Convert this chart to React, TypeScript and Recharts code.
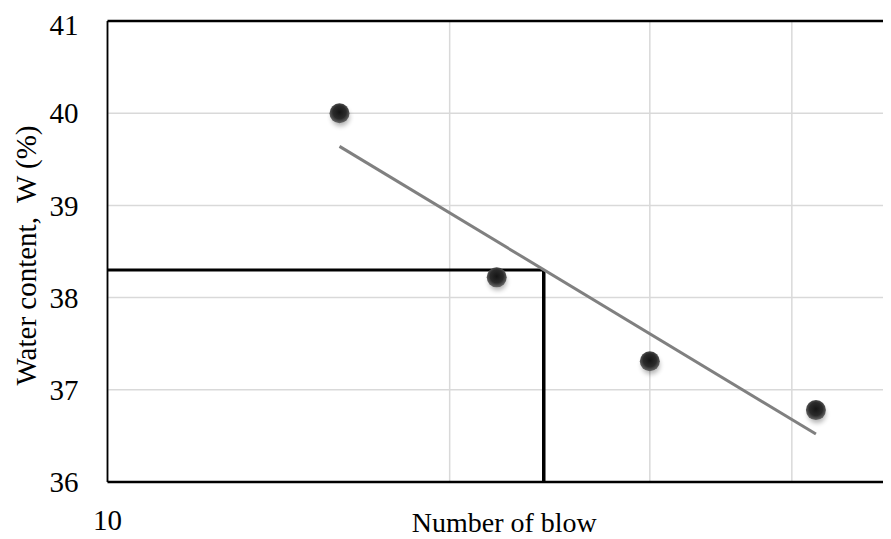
import React from 'react';
import {
  ComposedChart,
  Scatter,
  XAxis,
  YAxis,
  CartesianGrid,
  ReferenceLine,
  Label
} from 'recharts';

// number of blows vs water content (liquid limit test)
const blows = [16, 22, 30, 42];
const waterContent = [40.0, 38.22, 37.31, 36.78];

// trendline end points
const trendBlows = [16, 42];
const trendWater = [39.64, 36.52];

// liquid limit read-off lines
const llBlows = 24.2;
const llWater = 38.3;

const xTicks = [10, 20, 30, 40];
const yTicks = [36, 37, 38, 39, 40, 41];
const xDomain = [10, 48.9];
const yDomain = [36, 41];

const FONT = 'Liberation Serif';

const points = blows.map((b, i) => ({ x: b, y: waterContent[i] }));
const trend = trendBlows.map((b, i) => ({ x: b, y: trendWater[i] }));

const Ball = (props: any) => {
  const { cx, cy } = props;
  if (cx == null || cy == null) return null;
  return (
    <g>
      <circle cx={cx + 1} cy={cy + 4} r={9} fill="#000" opacity={0.3} filter="url(#ballShadow)" />
      <circle cx={cx} cy={cy} r={10} fill="url(#ballFill)" />
    </g>
  );
};

const YLabel = (props: any) => {
  const { viewBox } = props;
  const x = viewBox.x + 18;
  const y = viewBox.y + viewBox.height / 2 + 4;
  return (
    <text
      x={x}
      y={y}
      transform={`rotate(-90, ${x}, ${y})`}
      textAnchor="middle"
      dominantBaseline="central"
      style={{ whiteSpace: 'pre', fontFamily: FONT, fontSize: 29 }}
      fill="#000"
    >
      {'Water content,  W (%)'}
    </text>
  );
};

const App = () => {
  return (
    <div style={{ width: 883, height: 531, fontFamily: FONT }}>
      <ComposedChart
        width={883}
        height={531}
        margin={{ top: 13, right: 0, left: 0, bottom: 0 }}
        style={{ fontFamily: FONT }}
      >
        <defs>
          <radialGradient id="ballFill" cx="50%" cy="45%" r="55%">
            <stop offset="0%" stopColor="#151515" />
            <stop offset="60%" stopColor="#2b2b2b" />
            <stop offset="100%" stopColor="#6a6a6a" />
          </radialGradient>
          <filter id="ballShadow" x="-50%" y="-50%" width="200%" height="200%">
            <feGaussianBlur stdDeviation="2.5" />
          </filter>
        </defs>
        <CartesianGrid stroke="#d9d9d9" strokeWidth={1.5} />
        <XAxis
          dataKey="x"
          type="number"
          scale="log"
          domain={xDomain}
          allowDataOverflow
          ticks={xTicks}
          tickFormatter={(v: number) => (v === 10 ? '10' : '')}
          tickLine={false}
          tickSize={0}
          tickMargin={27}
          height={57}
          axisLine={{ stroke: '#000', strokeWidth: 2.5 }}
          tick={{ fill: '#000', fontSize: 29, style: { fontFamily: FONT } }}
        >
          <Label
            value="Number of blow"
            position="insideBottom"
            offset={7}
            dx={5}
            fill="#000"
            fontSize={28}
            style={{ fontFamily: FONT }}
          />
        </XAxis>
        <YAxis
          dataKey="y"
          type="number"
          domain={yDomain}
          ticks={yTicks}
          allowDataOverflow
          width={99.5}
          tickLine={false}
          tickSize={0}
          tickMargin={29}
          axisLine={{ stroke: '#000', strokeWidth: 1.8 }}
          tick={{ fill: '#000', fontSize: 29, style: { fontFamily: FONT } }}
        >
          <Label content={<YLabel />} />
        </YAxis>
        <ReferenceLine y={41} stroke="#000" strokeWidth={2.5} />
        <ReferenceLine
          segment={[
            { x: xDomain[0], y: llWater },
            { x: llBlows, y: llWater }
          ]}
          stroke="#000"
          strokeWidth={3}
        />
        <ReferenceLine
          segment={[
            { x: llBlows, y: yDomain[0] },
            { x: llBlows, y: llWater }
          ]}
          stroke="#000"
          strokeWidth={3.5}
        />
        <Scatter
          data={trend}
          line={{ stroke: '#808080', strokeWidth: 3 }}
          shape={() => null}
          isAnimationActive={false}
        />
        <Scatter data={points} shape={<Ball />} isAnimationActive={false} />
      </ComposedChart>
    </div>
  );
};

export default App;
